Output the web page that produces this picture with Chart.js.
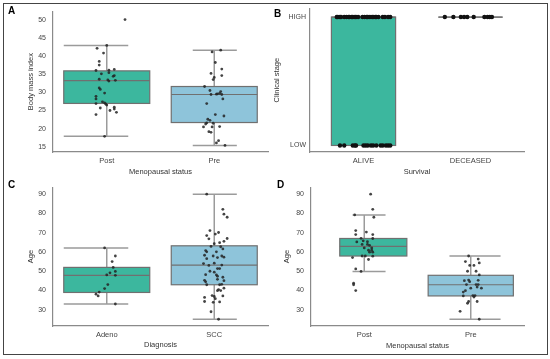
<!DOCTYPE html>
<html>
<head>
<meta charset="utf-8">
<script src="https://cdn.jsdelivr.net/npm/chart.js@4.4.1/dist/chart.umd.min.js"></script>
<style>
    html, body { margin: 0; padding: 0; background: #fff; }
    #fig { position: relative; width: 550px; height: 359px; overflow: hidden; font-family: "Liberation Sans", Arial, sans-serif; }
    #frame { position: absolute; left: 3px; top: 3px; width: 545px; height: 352px; box-sizing: border-box; border: 1.5px solid #444; }
    canvas { position: absolute; }
    .tag { position: absolute; font-weight: bold; font-size: 10px; line-height: 10px; color: #000; }
</style>
</head>
<body>
<div id="fig">
    <div id="frame"></div>
    <canvas id="chartA" width="272" height="180" style="left:0;top:0"></canvas>
    <canvas id="chartB" width="256" height="180" style="left:272px;top:0"></canvas>
    <canvas id="chartC" width="272" height="178" style="left:0;top:176px"></canvas>
    <canvas id="chartD" width="256" height="178" style="left:272px;top:176px"></canvas>
    <div class="tag" style="left:8px;top:6px">A</div>
    <div class="tag" style="left:274px;top:9px">B</div>
    <div class="tag" style="left:8px;top:180px">C</div>
    <div class="tag" style="left:277px;top:180px">D</div>
</div>
<script>
// ---- data ----
const menoCats = ['Post', 'Pre'];
const survivalCats = ['ALIVE', 'DECEASED'];
const diagCats = ['Adeno', 'SCC'];
const stageLevels = ['LOW', 'HIGH'];

const bmiTicks = [15, 20, 25, 30, 35, 40, 45, 50];
const ageTicks = [30, 40, 50, 60, 70, 80, 90];

// box stats: [lower whisker, q1, median, q3, upper whisker]
const bmiStats = [[17.9, 26.95, 33.2, 35.9, 42.9], [15.4, 21.7, 29.4, 31.6, 41.6]];
const stageStats = [[0, 0, 1, 1, 1], [1, 1, 1, 1, 1]];
const diagAgeStats = [[33.0, 39.0, 47.9, 52.0, 62.1], [25.1, 43.0, 53.2, 63.2, 90.0]];
const menoAgeStats = [[49.9, 57.9, 62.9, 67.0, 79.2], [25.1, 37.2, 43.0, 47.9, 57.9]];

// A: BMI
const bmiPost = [50, 42.9, 42.1, 40.8, 38.5, 37.5, 36.0, 36.3, 36.1, 35.1, 35.4, 34.6, 34.4, 33.6, 33.4, 33.3, 33.1,
    31.2, 30.8, 29.8, 28.9, 28.2, 27.4, 27.1, 26.9, 26.8, 26.5, 25.7, 25.9, 25.4, 25.0, 24.5, 23.9, 17.9];
const bmiPostJit = [0.17, 0.00, -0.09, -0.03, -0.07, -0.07, -0.10, 0.07, 0.02, -0.05, 0.02, 0.07, 0.06, -0.07, 0.01, 0.08, 0.02,
    -0.07, -0.06, -0.02, -0.10, -0.10, -0.04, -0.02, -0.10, -0.01, 0.00, -0.06, 0.07, 0.07, 0.03, 0.09, -0.10, -0.02];
const bmiPre = [41.6, 41.1, 38.2, 36.4, 35.2, 34.6, 34.1, 33.5, 31.6, 30.5, 30.2, 29.4, 29.5, 29.6, 29.7, 29.4, 28.2,
    26.9, 23.9, 23.5, 22.6, 22.3, 21.6, 21.3, 21.5, 20.5, 20.5, 20.6, 19.2, 19.0, 16.7, 16.1, 15.4];
const bmiPreJit = [0.06, -0.02, 0.01, 0.07, -0.03, 0.07, 0.00, -0.01, -0.09, -0.04, 0.06, -0.03, 0.02, 0.03, 0.05, 0.07, 0.08,
    -0.07, 0.01, 0.09, -0.06, -0.04, -0.07, -0.08, -0.01, -0.10, -0.02, 0.05, -0.05, -0.03, 0.04, 0.02, 0.10];

// B: clinical stage (1 = HIGH, 0 = LOW), x jitter only
const aliveHighJit = [-0.25, -0.24, -0.22, -0.21, -0.18, -0.16, -0.14, -0.13, -0.11, -0.10, -0.08, -0.07, -0.05, -0.01,
    0.01, 0.03, 0.04, 0.06, 0.08, 0.09, 0.11, 0.12, 0.14, 0.18, 0.20, 0.23, 0.25];
const aliveLowJit = [-0.22, -0.18, -0.10, -0.08, -0.07, 0.00, 0.02, 0.04, 0.07, 0.09, 0.12, 0.16, 0.18, 0.21, 0.23, 0.25];
const deceasedHighJit = [-0.24, -0.16, -0.09, -0.06, -0.03, 0.03, 0.13, 0.16, 0.18, 0.20];

// C: age by diagnosis
const ageAdeno = [62.1, 57.9, 55.0, 52.0, 49.2, 49.9, 48.1, 47.9, 43.1, 41.0, 39.2, 38.1, 37.2, 33.0];
const ageAdenoJit = [-0.02, 0.08, 0.05, 0.06, 0.03, 0.08, 0.00, 0.08, 0.01, -0.02, -0.07, -0.10, -0.08, 0.08];
const ageScc = [90, 82.1, 79.6, 78.0, 71.1, 70.1, 69.3, 68.5, 66.8, 67.0, 65.5, 64.8, 64.3, 62.9, 62.7, 61.6, 60.7, 60.1,
    60.1, 58.3, 57.9, 57.9, 57.3, 56.5, 57.1, 54.0, 54.2, 53.0, 53.2, 51.4, 51.4, 48.2, 48.1, 47.4, 50.0, 49.5, 45.3, 44.5,
    46.9, 45.8, 45.1, 43.0, 43.2, 43.0, 40.5, 40.0, 39.9, 41.2, 37.4, 36.9, 37.2, 36.4, 34.3, 33.9, 34.1, 35.8, 29.0, 25.1];
const ageSccJit = [-0.07, 0.08, 0.09, 0.12, -0.04, 0.04, 0.01, -0.07, -0.05, 0.12, 0.09, 0.05, 0.00, -0.03, 0.06, 0.08, -0.08, -0.07,
    0.02, -0.09, -0.01, 0.07, 0.09, -0.07, 0.03, -0.10, 0.00, -0.05, 0.07, 0.03, 0.05, -0.08, 0.02, 0.03, -0.04, 0.00, -0.09, -0.08,
    0.08, 0.03, 0.09, -0.07, 0.07, 0.05, 0.04, 0.06, 0.03, 0.09, -0.02, 0.00, 0.08, -0.09, -0.09, -0.01, 0.05, 0.01, -0.03, 0.04];

// D: age by menopausal status
const agePost = [90, 82.1, 78.0, 79.2, 71.1, 69.0, 70.3, 69.0, 67.1, 67.0, 65.8, 65.3, 65.2, 63.9, 63.9, 63.4, 62.1, 62.1,
    60.9, 60.9, 59.9, 59.9, 57.9, 57.9, 57.8, 57.1, 56.1, 51.2, 49.9, 43.8, 43.0, 40.0];
const agePostJit = [0.06, 0.08, 0.09, -0.09, -0.08, -0.08, 0.02, 0.08, -0.03, 0.08, -0.01, 0.03, -0.07, -0.02, 0.03, 0.05, 0.00, 0.07,
    0.04, 0.07, 0.08, 0.05, -0.02, 0.01, 0.08, -0.11, 0.04, -0.08, -0.03, -0.10, -0.10, -0.08];
const agePre = [57.9, 56.3, 55.0, 54.3, 53.0, 53.0, 50.0, 50.0, 48.1, 45.1, 45.4, 44.6, 45.3, 43.1, 43.1, 43.1, 41.8, 41.2,
    41.2, 39.9, 39.2, 37.2, 37.4, 37.4, 36.6, 34.3, 33.4, 34.3, 29.2, 25.1];
const agePreJit = [-0.02, 0.07, -0.05, 0.08, -0.01, 0.03, -0.03, 0.05, 0.08, -0.06, -0.02, -0.01, 0.07, -0.04, 0.05, 0.07, 0.06, 0.00,
    0.10, -0.05, -0.07, -0.07, 0.02, 0.04, 0.03, -0.02, -0.03, 0.06, -0.10, 0.08];

// ---- drawing ----
Chart.defaults.font.family = '"Liberation Sans", Arial, sans-serif';

const TEAL = '#3cb79e';
const BLUE = '#8ec4da';

// box, whiskers and caps drawn through the chart's scales
const boxPlugin = {
    id: 'boxes',
    beforeDatasetsDraw(chart, args, opts) {
        const { ctx, scales: { x, y } } = chart;
        opts.stats.forEach((s, i) => {
            const g = opts.geom[i];
            const px = d => x.getPixelForValue(i + d);
            const [lo, q1, med, q3, hi] = s.map(v => y.getPixelForValue(v));
            ctx.save();
            ctx.strokeStyle = '#9b9b9b';
            ctx.lineWidth = 1.5;
            ctx.beginPath();
            ctx.moveTo(px(0), lo);
            ctx.lineTo(px(0), hi);
            if (g.cap) {
                ctx.moveTo(px(g.cap[0]), lo);
                ctx.lineTo(px(g.cap[1]), lo);
                ctx.moveTo(px(g.cap[0]), hi);
                ctx.lineTo(px(g.cap[1]), hi);
            }
            ctx.stroke();

            const l = px(g.box[0]), r = px(g.box[1]);
            ctx.fillStyle = opts.colors[i];
            ctx.fillRect(l, q3, r - l, q1 - q3);
            ctx.strokeStyle = '#707070';
            ctx.lineWidth = 1.2;
            ctx.strokeRect(l, q3, r - l, q1 - q3);
            ctx.beginPath();
            ctx.moveTo(l, med);
            ctx.lineTo(r, med);
            ctx.stroke();
            ctx.restore();
        });
    }
};

function pts(cat, values, jitter) {
    return values.map((v, k) => ({ x: cat + jitter[k], y: v }));
}

function panel(id, cfg) {
    return new Chart(document.getElementById(id), {
        type: 'scatter',
        data: {
            datasets: cfg.points.map(d => ({
                data: d,
                pointRadius: cfg.r,
                pointBackgroundColor: cfg.dot,
                pointBorderWidth: 0
            }))
        },
        options: {
            responsive: false,
            animation: false,
            events: [],
            layout: { padding: { top: cfg.padTop, right: 4, left: 0, bottom: 0 } },
            plugins: {
                legend: { display: false },
                tooltip: { enabled: false },
                boxes: { stats: cfg.stats, geom: cfg.geom, colors: [TEAL, BLUE] }
            },
            scales: {
                x: {
                    type: 'linear',
                    min: -0.5,
                    max: 1.5,
                    afterBuildTicks: s => { s.ticks = [{ value: 0 }, { value: 1 }]; },
                    afterFit: s => { s.height = cfg.xh; },
                    grid: { display: false, drawTicks: false },
                    border: { color: '#8a8a8a', width: 1.2 },
                    ticks: { callback: v => cfg.cats[v], color: '#444', font: { size: 7.5 }, padding: 4 },
                    title: { display: true, text: cfg.xTitle, color: '#333', font: { size: 7.5 }, padding: { top: 0, bottom: cfg.xtp } }
                },
                y: {
                    min: cfg.yMin,
                    max: cfg.yMax,
                    afterBuildTicks: s => { s.ticks = cfg.yTicks.map(v => ({ value: v })); },
                    afterFit: s => { s.width = cfg.yw; },
                    grid: { display: false, drawTicks: false },
                    border: { color: '#8a8a8a', width: 1.2 },
                    ticks: { callback: cfg.yLabel || (v => v), color: '#444', font: { size: 7 }, padding: cfg.ytickPad },
                    title: { display: true, text: cfg.yTitle, color: '#333', font: { size: 7.5 }, padding: { top: cfg.ytp, bottom: 0 } }
                }
            }
        },
        plugins: [boxPlugin]
    });
}

const dot = 'rgba(35,35,35,0.85)';
const geomAC = [{ box: [-0.40, 0.40], cap: [-0.40, 0.20] }, { box: [-0.40, 0.40], cap: [-0.20, 0.21] }];

panel('chartA', {
    points: [pts(0, bmiPost, bmiPostJit), pts(1, bmiPre, bmiPreJit)],
    stats: bmiStats, geom: geomAC, cats: menoCats,
    xTitle: 'Menopausal status', yTitle: 'Body mass index',
    yMin: 13.6, yMax: 52.3, yTicks: bmiTicks,
    r: 1.4, dot: dot, padTop: 5, xh: 28, yw: 53, xtp: 3.5, ytp: 26, ytickPad: 7
});

panel('chartB', {
    points: [
        pts(0, aliveHighJit.map(() => 1), aliveHighJit),
        pts(0, aliveLowJit.map(() => 0), aliveLowJit),
        pts(1, deceasedHighJit.map(() => 1), deceasedHighJit)
    ],
    stats: stageStats,
    geom: [{ box: [-0.30, 0.30] }, { box: [-0.30, 0.30] }],
    cats: survivalCats,
    xTitle: 'Survival', yTitle: 'Clinical stage',
    yMin: -0.051, yMax: 1.069, yTicks: [0, 1], yLabel: v => stageLevels[v],
    r: 2.2, dot: '#111', padTop: 5, xh: 28, yw: 38, xtp: 3.5, ytp: 0.5, ytickPad: 4
});

panel('chartC', {
    points: [pts(0, ageAdeno, ageAdenoJit), pts(1, ageScc, ageSccJit)],
    stats: diagAgeStats, geom: geomAC, cats: diagCats,
    xTitle: 'Diagnosis', yTitle: 'Age',
    yMin: 21.6, yMax: 93.6, yTicks: ageTicks,
    r: 1.4, dot: dot, padTop: 4, xh: 28, yw: 53, xtp: 4.5, ytp: 26, ytickPad: 7
});

panel('chartD', {
    points: [pts(0, agePost, agePostJit), pts(1, agePre, agePreJit)],
    stats: menoAgeStats,
    geom: [{ box: [-0.23, 0.40], cap: [-0.11, 0.20] }, { box: [-0.40, 0.40], cap: [-0.20, 0.28] }],
    cats: menoCats,
    xTitle: 'Menopausal status', yTitle: 'Age',
    yMin: 21.6, yMax: 93.6, yTicks: ageTicks,
    r: 1.4, dot: dot, padTop: 4, xh: 28, yw: 39, xtp: 3.8, ytp: 10.5, ytickPad: 7
});
</script>
</body>
</html>
